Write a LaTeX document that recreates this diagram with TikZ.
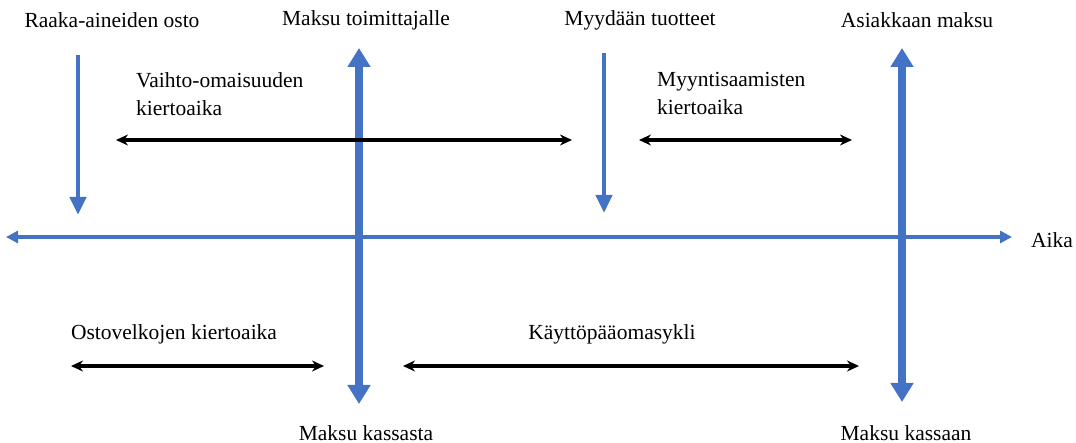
\documentclass[tikz,border=0pt]{standalone}
\usepackage{fontspec}
\setmainfont{Liberation Serif}
\usetikzlibrary{arrows.meta}
\definecolor{axblue}{HTML}{4472C4}
\begin{document}
\begin{tikzpicture}[x=1pt,y=-1pt,
  lbl/.style={font=\fontsize{21.5}{28}\selectfont, inner sep=0pt},
  lbll/.style={lbl, align=left, anchor=north west},
  thinblue/.style={draw=axblue, line width=4.5pt, -{Triangle[width=16pt,length=18pt]}},
  thickblue/.style={draw=axblue, line width=8pt, {Triangle[width=22pt,length=19pt]}-{Triangle[width=22pt,length=19pt]}},
  axisline/.style={draw=axblue, line width=3.8pt, {Triangle[width=12pt,length=12pt]}-{Triangle[width=12pt,length=12pt]}},
  span/.style={draw=black, line width=3.6pt, {Stealth[width=11pt,length=12pt]}-{Stealth[width=11pt,length=12pt]}}
]
\useasboundingbox (0,0) rectangle (1076,443);
% coordinates
\coordinate (axL) at (6,237);
\coordinate (axR) at (1012,237);
\coordinate (a1t) at (78,55);
\coordinate (a1b) at (78,215);
\coordinate (a2t) at (604,53);
\coordinate (a2b) at (604,213);
\coordinate (p1t) at (359,48);
\coordinate (p1b) at (359,404);
\coordinate (p2t) at (902,48);
\coordinate (p2b) at (902,402);
\coordinate (s1l) at (116,140);
\coordinate (s1r) at (572,140);
\coordinate (s2l) at (639,140);
\coordinate (s2r) at (852,140);
\coordinate (s3l) at (71,366);
\coordinate (s3r) at (324,366);
\coordinate (s4l) at (403,366);
\coordinate (s4r) at (859,366);
% connectors
\draw[axisline] (axL) -- (axR);
\draw[thinblue] (a1t) -- (a1b);
\draw[thinblue] (a2t) -- (a2b);
\draw[thickblue] (p1b) -- (p1t);
\draw[thickblue] (p2b) -- (p2t);
\draw[span] (s1l) -- (s1r);
\draw[span] (s2l) -- (s2r);
\draw[span] (s3l) -- (s3r);
\draw[span] (s4l) -- (s4r);
% labels
\node[lbl] (t1) at (112,20) {Raaka-aineiden osto};
\node[lbl] (t2) at (366,20) {Maksu toimittajalle};
\node[lbl] (t3) at (640,20) {Myydään tuotteet};
\node[lbl] (t4) at (917,20) {Asiakkaan maksu};
\node[lbll] (v1) at (136,72) {Vaihto-omaisuuden\\kiertoaika};
\node[lbll] (v2) at (657,72) {Myyntisaamisten\\kiertoaika};
\node[lbl] (aika) at (1052,240) {Aika};
\node[lbl] (b1) at (174,334) {Ostovelkojen kiertoaika};
\node[lbl] (b2) at (612,334) {Käyttöpääomasykli};
\node[lbl] (b3) at (366,433) {Maksu kassasta};
\node[lbl] (b4) at (906,433) {Maksu kassaan};
\end{tikzpicture}
\end{document}
